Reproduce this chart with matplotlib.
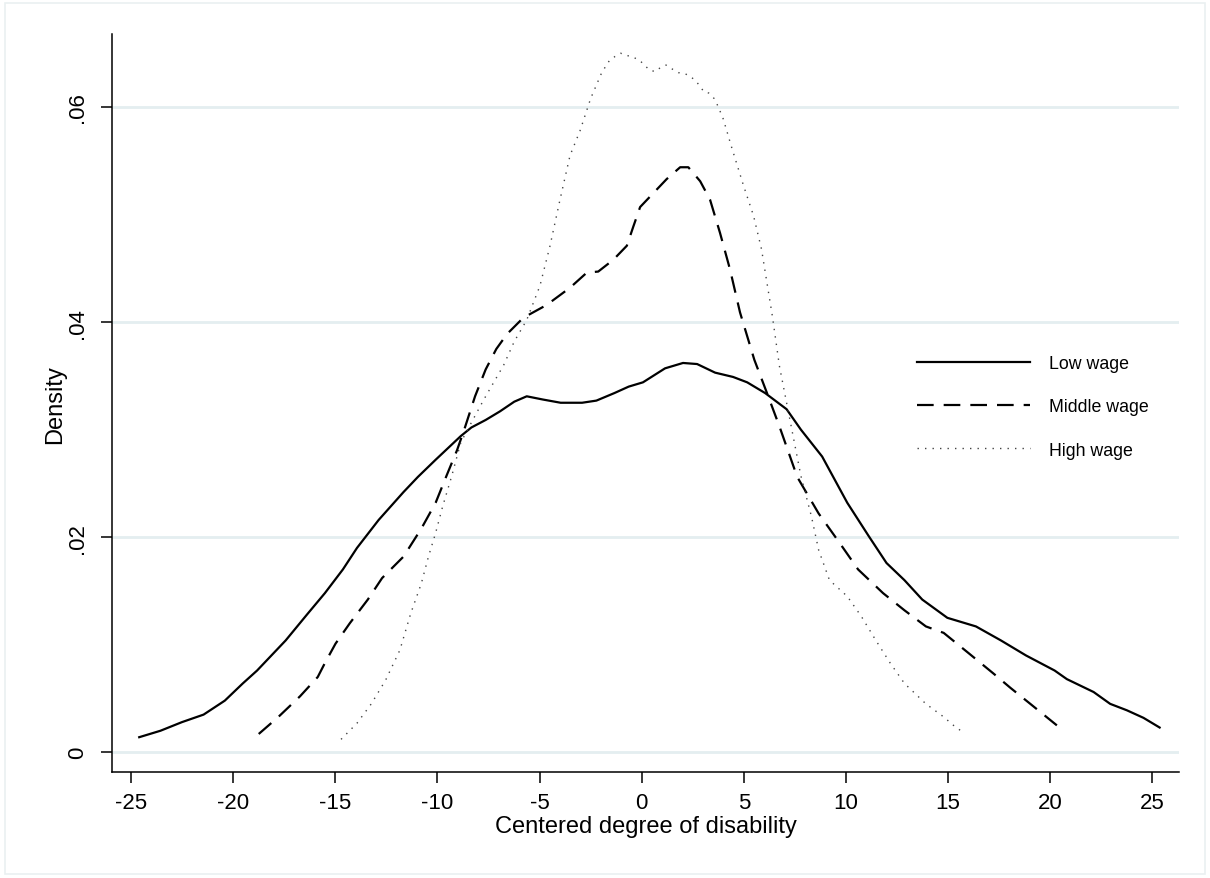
import matplotlib
matplotlib.use("Agg")
import matplotlib.pyplot as plt
from matplotlib.patches import Rectangle

plt.rcParams['font.family'] = ['Liberation Sans', 'DejaVu Sans']

# density curves (x = centered degree, y = density)
low_x = [-24.60, -23.56, -22.51, -21.45, -20.41, -19.53, -18.83, -17.43, -16.39, -15.51,
         -14.63, -13.94, -12.88, -11.66, -10.96, -10.09, -8.86, -8.34, -7.64, -6.94,
         -6.24, -5.63, -4.84, -3.97, -2.92, -2.22, -1.34, -0.64, 0.06, 1.14,
         2.02, 2.71, 3.59, 4.47, 5.16, 6.04, 7.09, 7.79, 8.83, 10.06,
         11.11, 11.98, 12.86, 13.73, 14.96, 16.36, 17.58, 18.81, 20.21, 20.81,
         22.12, 22.93, 23.75, 24.56, 25.35]
low_y = [0.0014, 0.0020, 0.0028, 0.0035, 0.0048, 0.0064, 0.0076, 0.0104, 0.0128, 0.0148,
         0.0170, 0.0190, 0.0216, 0.0242, 0.0256, 0.0272, 0.0294, 0.0302, 0.0309, 0.0317,
         0.0326, 0.0331, 0.0328, 0.0325, 0.0325, 0.0327, 0.0334, 0.0340, 0.0344, 0.0357,
         0.0362, 0.0361, 0.0353, 0.0349, 0.0344, 0.0334, 0.0319, 0.0300, 0.0275, 0.0232,
         0.0201, 0.0176, 0.0160, 0.0142, 0.0125, 0.0117, 0.0104, 0.0090, 0.0076, 0.0068,
         0.0056, 0.0045, 0.0039, 0.0032, 0.0023]

mid_x = [-18.75, -17.78, -16.73, -15.86, -15.51, -14.99, -14.29, -13.41, -12.71, -11.66,
         -10.79, -10.09, -9.56, -9.04, -8.69, -8.16, -7.64, -7.12, -6.59, -5.80,
         -4.65, -3.51, -2.69, -2.13, -1.39, -0.73, -0.41, -0.08, 0.57, 1.22,
         1.88, 2.28, 2.86, 3.34, 3.83, 4.32, 4.81, 5.51, 6.13, 6.74,
         7.61, 8.66, 9.71, 10.59, 11.81, 12.86, 13.91, 14.78, 16.01, 17.23,
         18.04, 19.02, 19.67, 20.32]
mid_y = [0.0017, 0.0033, 0.0052, 0.0070, 0.0083, 0.0101, 0.0120, 0.0142, 0.0162, 0.0182,
         0.0208, 0.0232, 0.0257, 0.0281, 0.0300, 0.0331, 0.0356, 0.0375, 0.0389, 0.0404,
         0.0416, 0.0432, 0.0446, 0.0447, 0.0458, 0.0471, 0.0489, 0.0507, 0.0520, 0.0533,
         0.0544, 0.0544, 0.0531, 0.0514, 0.0483, 0.0449, 0.0409, 0.0365, 0.0334, 0.0303,
         0.0256, 0.0222, 0.0194, 0.0170, 0.0148, 0.0132, 0.0117, 0.0111, 0.0092, 0.0073,
         0.0060, 0.0045, 0.0035, 0.0025]

hi_x = [-14.72, -13.94, -13.24, -12.54, -11.84, -11.31, -10.79, -10.44, -10.09, -9.74,
        -9.30, -8.86, -8.30, -7.73, -6.76, -6.24, -5.63, -4.98, -4.49, -4.00,
        -3.51, -3.02, -2.50, -1.96, -1.59, -1.31, -1.03, -0.73, -0.38, -0.08,
        0.18, 0.41, 0.68, 0.93, 1.19, 1.52, 1.79, 2.12, 2.41, 2.66,
        2.86, 3.05, 3.28, 3.54, 3.70, 3.97, 4.16, 4.36, 4.98, 5.47,
        5.86, 6.39, 6.74, 7.09, 7.44, 7.79, 8.31, 8.66, 9.19, 10.06,
        10.76, 11.46, 12.16, 12.86, 13.91, 14.77, 15.26, 15.62]
hi_y = [0.0012, 0.0027, 0.0045, 0.0067, 0.0095, 0.0129, 0.0157, 0.0182, 0.0204, 0.0229,
        0.0257, 0.0288, 0.0308, 0.0328, 0.0360, 0.0382, 0.0402, 0.0434, 0.0471, 0.0514,
        0.0555, 0.0578, 0.0608, 0.0632, 0.0643, 0.0647, 0.0650, 0.0648, 0.0646, 0.0643,
        0.0638, 0.0634, 0.0633, 0.0637, 0.0639, 0.0635, 0.0632, 0.0631, 0.0628, 0.0624,
        0.0619, 0.0614, 0.0613, 0.0608, 0.0602, 0.0590, 0.0578, 0.0565, 0.0527, 0.0499,
        0.0468, 0.0406, 0.0359, 0.0325, 0.0291, 0.0257, 0.0219, 0.0188, 0.0160, 0.0145,
        0.0126, 0.0104, 0.0083, 0.0064, 0.0045, 0.0033, 0.0025, 0.0020]

x_ticks = [-25, -20, -15, -10, -5, 0, 5, 10, 15, 20, 25]
y_ticks = [0, 0.02, 0.04, 0.06]
y_ticklabels = ['0', '.02', '.04', '.06']

fig = plt.figure(figsize=(12.1, 8.79), dpi=100)
fig.patches.append(Rectangle((0.004, 0.004), 0.992, 0.991, transform=fig.transFigure,
                             fill=False, edgecolor='#eaf0f1', linewidth=1.2))
ax = fig.add_axes([0.0926, 0.1203, 0.8818, 0.840])

grid_c = '#e4eef0'
for yv in y_ticks:
    ax.axhline(yv, color=grid_c, linewidth=2.0, zorder=0)

ax.plot(low_x, low_y, color='black', linewidth=1.6, label='Low wage')
ax.plot(mid_x, mid_y, color='black', linewidth=1.6, linestyle=(0, (7.5, 4.5)), label='Middle wage')
ax.plot(hi_x, hi_y, color='#444444', linewidth=1.0, linestyle=(0, (1, 4.4)), label='High wage')

ax.set_xlim(-25.93, 26.3)
ax.set_ylim(-0.00186, 0.0668)
ax.set_xticks(x_ticks)
ax.set_xticklabels([str(v) for v in x_ticks])
ax.set_yticks(y_ticks)
ax.set_yticklabels(y_ticklabels, rotation=90, va='center')

for s in ['top', 'right']:
    ax.spines[s].set_visible(False)
for s in ['left', 'bottom']:
    ax.spines[s].set_linewidth(1.1)
ax.tick_params(direction='out', length=8, width=1.1, labelsize=16, pad=6)
ax.tick_params(axis='y', pad=9)

ax.set_xlabel('Centered degree of disability', fontsize=17, labelpad=2)
ax.set_ylabel('Density', fontsize=17, labelpad=1)

ax.legend(loc='upper left', bbox_to_anchor=(916.7 / 1210, 1 - 356 / 879),
          bbox_transform=fig.transFigure, frameon=False, fontsize=12.8,
          handlelength=6.35, handletextpad=1.07, labelspacing=1.48,
          borderpad=0, borderaxespad=0)

fig.savefig('out.png', dpi=100, facecolor='white')
